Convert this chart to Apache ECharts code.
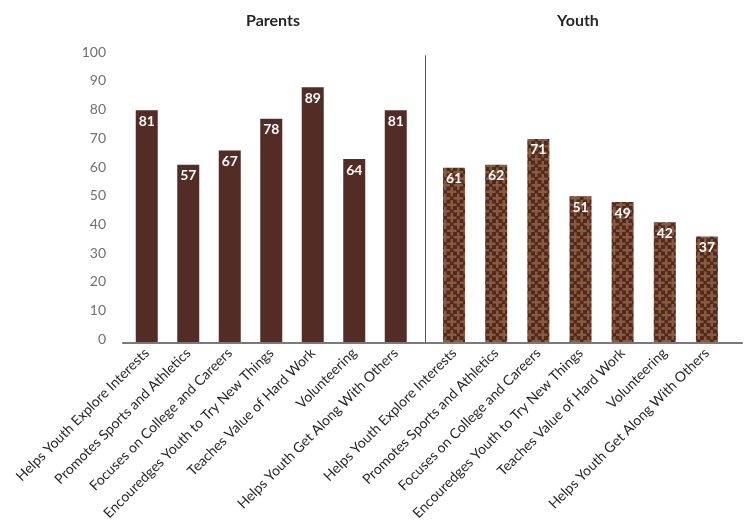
<!DOCTYPE html>
<html>
<head>
<meta charset="utf-8">
<script src="https://cdn.jsdelivr.net/npm/echarts@6/dist/echarts.min.js"></script>
<style>
html,body{margin:0;padding:0;background:#fff;}
#chart{width:744px;height:525px;}
</style>
</head>
<body>
<div id="chart"></div>
<script>
var categories = ['Helps Youth Explore Interests','Promotes Sports and Athletics','Focuses on College and Careers','Encouredges Youth to Try New Things','Teaches Value of Hard Work','Volunteering','Helps Youth Get Along With Others'];
var parentValues = [81, 62, 67, 78, 89, 64, 81];
var parentLabels = [81, 57, 67, 78, 89, 64, 81];
var youthValues = [61, 62, 71, 51, 49, 42, 37];
var youthLabels = [61, 62, 71, 51, 49, 42, 37];
var yTicks = [0,10,20,30,40,50,60,70,80,90,100];

// cross pattern for youth bars
var S = 13;
var pc = document.createElement('canvas');
pc.width = S; pc.height = S;
var ctx = pc.getContext('2d');
ctx.fillStyle = '#4e2a21';
ctx.fillRect(0,0,S,S);
ctx.fillStyle = '#8c5a3a';
function cross(cx, cy){
  for (var dx=-S; dx<=S; dx+=S){
    for (var dy=-S; dy<=S; dy+=S){
      ctx.fillRect(cx+dx-4.75, cy+dy-1.25, 9.5, 2.5);
      ctx.fillRect(cx+dx-1.25, cy+dy-4.75, 2.5, 9.5);
    }
  }
}
cross(3.25,3.25);
cross(9.75,9.75);

var chart = echarts.init(document.getElementById('chart'));
var labelFont = 'Lato, "Open Sans", sans-serif';
var option = {
  animation: false,
  backgroundColor: '#ffffff',
  graphic: [
    {type:'text', x:273, y:21, style:{text:'Parents', font:'bold 16px Lato, sans-serif', fill:'#262626', textAlign:'center', textVerticalAlign:'middle'}},
    {type:'text', x:578, y:21, style:{text:'Youth', font:'bold 16px Lato, sans-serif', fill:'#262626', textAlign:'center', textVerticalAlign:'middle'}}
  ],
  grid: [
    {left:126, width:290.5, top:55.7, bottom:182.3},
    {left:433, width:295, top:55.7, bottom:182.3},
    {left:123, right:2, top:55.7, bottom:182.3}
  ],
  xAxis: [
    {gridIndex:0, type:'category', data:categories, axisLine:{show:false}, axisTick:{show:false},
     axisLabel:{interval:0, rotate:45, margin:8, fontFamily:labelFont, fontSize:14, color:'#262626'}},
    {gridIndex:1, type:'category', data:categories, axisLine:{show:false}, axisTick:{show:false},
     axisLabel:{interval:0, rotate:45, margin:8, fontFamily:labelFont, fontSize:14, color:'#262626'}},
    {gridIndex:2, type:'category', data:[], axisLine:{show:true, lineStyle:{color:'#7a7a7a', width:2}}, axisTick:{show:false}, axisLabel:{show:false}, z:5}
  ],
  yAxis: [
    {gridIndex:0, type:'value', min:0, max:100, interval:10, splitLine:{show:false}, axisLine:{show:false}, axisTick:{show:false},
     axisLabel:{margin:20, fontFamily:labelFont, fontSize:14, color:'#707070', verticalAlign:'bottom', lineHeight:7,
       formatter:function(v){ return yTicks.indexOf(v) >= 0 ? String(v) : ''; }}},
    {gridIndex:1, type:'value', min:0, max:100, interval:10, offset:8, splitLine:{show:false},
     axisLine:{show:true, lineStyle:{color:'#555555', width:1}}, axisTick:{show:false}, axisLabel:{show:false}},
    {gridIndex:2, type:'value', min:0, max:100, show:false}
  ],
  series: [
    {type:'bar', xAxisIndex:0, yAxisIndex:0, data:parentValues, barWidth:22,
     itemStyle:{color:'#532d25'},
     label:{show:true, position:'insideTop', distance:4, color:'#ffffff', fontFamily:labelFont, fontWeight:'bold', fontSize:14,
       formatter:function(p){ return String(parentLabels[p.dataIndex]); }}},
    {type:'bar', xAxisIndex:1, yAxisIndex:1, data:youthValues, barWidth:22,
     itemStyle:{color:{image:pc, repeat:'repeat'}},
     label:{show:true, position:'insideTop', distance:4, color:'#ffffff', fontFamily:labelFont, fontWeight:'bold', fontSize:14,
       formatter:function(p){ return String(youthLabels[p.dataIndex]); }}}
  ]
};
chart.setOption(option);
</script>
</body>
</html>
